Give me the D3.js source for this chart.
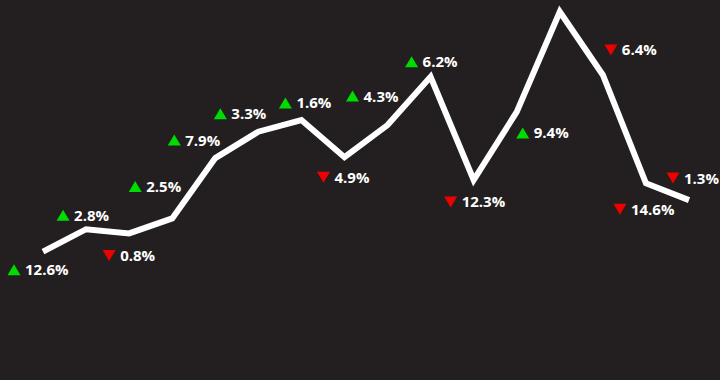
<!DOCTYPE html>
<html>
<head>
<meta charset="utf-8">
<script src="https://cdn.jsdelivr.net/npm/d3@7"></script>
<style>
  html, body { margin: 0; padding: 0; background: #231f20; }
  svg { display: block; }
</style>
</head>
<body>
<div id="chart"></div>
<script>
// periods along the x axis (unlabelled in the picture)
const periods = d3.range(1, 17);

// index level for each period
const levels = [16.1, 23.6, 22.2, 27.2, 47.3, 56.1, 60.0, 47.6, 58.3, 74.4, 40.0, 62.7, 96.1, 75.0, 38.9, 33.3];

// % change shown next to each point (null = no label)
const changes = [12.6, 2.8, -0.8, 2.5, 7.9, 3.3, 1.6, -4.9, 4.3, 6.2, -12.3, 9.4, null, -6.4, -14.6, -1.3];

// where each label's marker sits relative to its point
const labelOffsets = [
  [-29, 18], [-23, -14], [-20, 22], [-37, -32], [-41, -18], [-38, -18],
  [-16, -17], [-21, 20], [-35, -29], [-19, -15], [-23, 22], [6, 21],
  [0, 0], [8, -25], [-26, 26], [-16, -22]
];

const width = 720, height = 380;

const svg = d3.select("#chart").append("svg")
  .attr("width", width)
  .attr("height", height);

svg.append("rect")
  .attr("width", width)
  .attr("height", height)
  .attr("fill", "#231f20");

const x = d3.scalePoint()
  .domain(periods)
  .range([43, 689]);

const y = d3.scaleLinear()
  .domain([0, 100])
  .range([300, 0]);

const data = periods.map((p, i) => ({
  period: p,
  level: levels[i],
  change: changes[i],
  off: labelOffsets[i]
}));

const line = d3.line()
  .x(d => x(d.period))
  .y(d => y(d.level));

svg.append("path")
  .datum(data)
  .attr("fill", "none")
  .attr("stroke", "#ffffff")
  .attr("stroke-width", 6)
  .attr("stroke-linejoin", "miter")
  .attr("stroke-linecap", "butt")
  .attr("d", line);

// labels
const labels = svg.selectAll(".label")
  .data(data.filter(d => d.change !== null))
  .enter()
  .append("g")
  .attr("class", "label")
  .attr("transform", d => `translate(${x(d.period) + d.off[0]}, ${y(d.level) + d.off[1]})`);

labels.append("path")
  .attr("d", d => d.change >= 0 ? "M-6.5,5.5L6.5,5.5L0,-5.5Z" : "M-6.5,-5.5L6.5,-5.5L0,5.5Z")
  .attr("fill", d => d.change >= 0 ? "#00dc00" : "#ee0000");

labels.append("text")
  .attr("x", 11)
  .attr("y", 0)
  .attr("dy", "0.36em")
  .attr("fill", "#ffffff")
  .style("font-family", "'Open Sans', sans-serif")
  .style("font-weight", 700)
  .style("font-size", "15px")
  .text(d => Math.abs(d.change).toFixed(1) + "%");
</script>
</body>
</html>
